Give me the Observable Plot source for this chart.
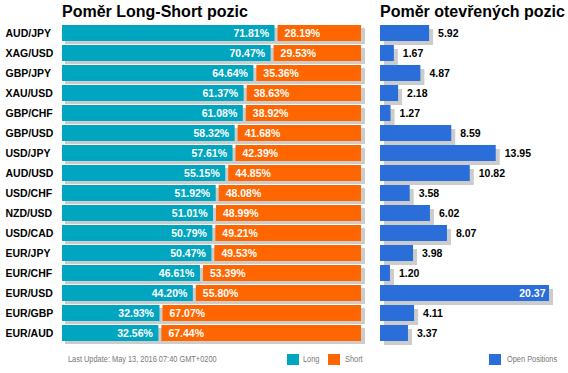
<!DOCTYPE html>
<html>
<head>
<meta charset="utf-8">
<script src="https://cdn.jsdelivr.net/npm/d3@7"></script>
<script src="https://cdn.jsdelivr.net/npm/@observablehq/plot@0.6"></script>
<style>
  html, body { margin: 0; padding: 0; background: #fff; }
  #root { position: relative; width: 568px; height: 373px; font-family: "Liberation Sans", Arial, sans-serif; overflow: hidden; }
  #root svg { position: absolute; left: 0; top: 0; background: transparent; }
  .title { position: absolute; top: 4px; font-size: 16px; line-height: 16px; font-weight: bold; color: #000; white-space: nowrap; }
  .foot { position: absolute; top: 354.5px; font-size: 8.5px; line-height: 8.5px; color: #777; white-space: nowrap; transform: scaleX(0.87); transform-origin: left center; }
  .sw { position: absolute; width: 12px; height: 11px; }
</style>
</head>
<body>
<div id="root">
  <div class="title" style="left:62px">Poměr Long-Short pozic</div>
  <div class="title" style="left:380px">Poměr otevřených pozic</div>
  <div class="foot" style="left:68px">Last Update: May 13, 2016 07:40 GMT+0200</div>
  <div class="sw" style="left:287px;top:353.5px;background:#00a5c0"></div>
  <div class="foot" style="left:302.7px">Long</div>
  <div class="sw" style="left:328.3px;top:353.5px;background:#ff6600"></div>
  <div class="foot" style="left:345px">Short</div>
  <div class="sw" style="left:489px;top:354px;background:#2a6fd9"></div>
  <div class="foot" style="left:506.7px">Open Positions</div>
</div>
<script>
const pairs = ["AUD/JPY","XAG/USD","GBP/JPY","XAU/USD","GBP/CHF","GBP/USD","USD/JPY","AUD/USD","USD/CHF","NZD/USD","USD/CAD","EUR/JPY","EUR/CHF","EUR/USD","EUR/GBP","EUR/AUD"];
const longPct = [71.81,70.47,64.64,61.37,61.08,58.32,57.61,55.15,51.92,51.01,50.79,50.47,46.61,44.20,32.93,32.56];
const shortPct = [28.19,29.53,35.36,38.63,38.92,41.68,42.39,44.85,48.08,48.99,49.21,49.53,53.39,55.80,67.07,67.44];
const openPos = [5.92,1.67,4.87,2.18,1.27,8.59,13.95,10.82,3.58,6.02,8.07,3.98,1.20,20.37,4.11,3.37];

const data = pairs.map((p, i) => ({pair: p, long: longPct[i], short: shortPct[i], open: openPos[i]}));
const maxOpen = d3.max(openPos);
const FONT = "Liberation Sans, Arial, sans-serif";
const yScale = {domain: pairs, range: [21, 345], padding: 0.2, axis: null};

const left = Plot.plot({
  width: 568, height: 373,
  marginLeft: 62, marginRight: 210, marginTop: 0, marginBottom: 0,
  x: {domain: [0, 100], axis: null},
  y: yScale,
  style: {background: "transparent", fontFamily: FONT, overflow: "visible"},
  marks: [
    Plot.barX(data, {y: "pair", x1: 0, x2: d => d.long + d.short, fill: "#cccccc", dx: 3, dy: 3, insetRight: -4}),
    Plot.barX(data, {y: "pair", x1: 0, x2: "long", fill: "#00a5c0"}),
    Plot.barX(data, {y: "pair", x1: "long", x2: d => d.long + d.short, fill: "#ff6600", dx: 3}),
    Plot.text(data, {y: "pair", x: "long", text: d => d.long.toFixed(2) + "%", textAnchor: "end", dx: -6, fill: "white", fontWeight: "bold", fontSize: 10.5}),
    Plot.text(data, {y: "pair", x: "long", text: d => d.short.toFixed(2) + "%", textAnchor: "start", dx: 9.5, fill: "white", fontWeight: "bold", fontSize: 10.5}),
    Plot.text(data, {y: "pair", text: "pair", frameAnchor: "left", dx: -57, textAnchor: "start", fill: "#000", fontWeight: "bold", fontSize: 10.5})
  ]
});

const right = Plot.plot({
  width: 568, height: 373,
  marginLeft: 380, marginRight: 19, marginTop: 0, marginBottom: 0,
  x: {domain: [0, maxOpen], axis: null},
  y: yScale,
  style: {background: "transparent", fontFamily: FONT, overflow: "visible"},
  marks: [
    Plot.barX(data, {y: "pair", x1: 0, x2: "open", fill: "#cccccc", dx: 4, dy: 4}),
    Plot.barX(data, {y: "pair", x1: 0, x2: "open", fill: "#2a6fd9"}),
    Plot.text(data.filter(d => d.open < maxOpen), {y: "pair", x: "open", text: d => d.open.toFixed(2), textAnchor: "start", dx: 8.5, fill: "#000", fontWeight: "bold", fontSize: 10.5}),
    Plot.text(data.filter(d => d.open === maxOpen), {y: "pair", x: "open", text: d => d.open.toFixed(2), textAnchor: "end", dx: -4, fill: "white", fontWeight: "bold", fontSize: 10.5})
  ]
});

const root = document.getElementById("root");
root.appendChild(left);
root.appendChild(right);
</script>
</body>
</html>
